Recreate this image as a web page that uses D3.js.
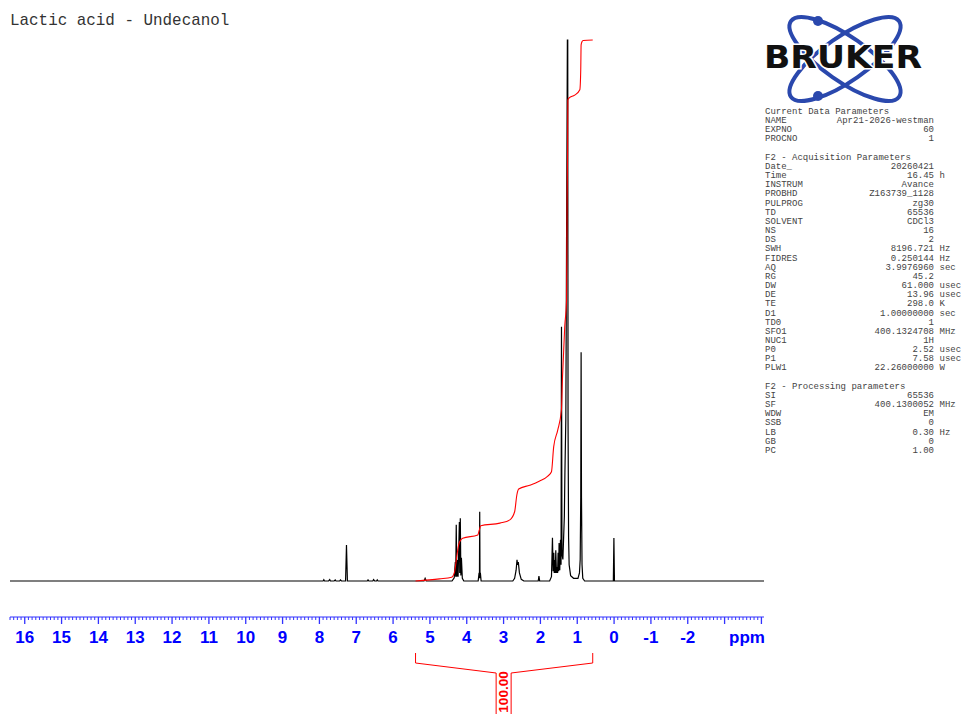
<!DOCTYPE html>
<html>
<head>
<meta charset="utf-8">
<script src="https://d3js.org/d3.v7.min.js"></script>
<style>
  html, body { margin: 0; padding: 0; background: #fff; }
  #chart { width: 961px; height: 714px; overflow: hidden; }
</style>
</head>
<body>
<div id="chart"></div>
<script>
"use strict";

// ---- data ----
const titleText = "Lactic acid - Undecanol";

const axisTicks = [16, 15, 14, 13, 12, 11, 10, 9, 8, 7, 6, 5, 4, 3, 2, 1, 0, -1, -2];
const axisUnit = "ppm";
const ppmExtent = [16.4, -4.07];

// 1H spectrum, relative intensity (100 = top of plot)
const spectrumPpm = [
  16.4, 7.9, 7.88, 7.86, 7.75, 7.72, 7.70, 7.60, 7.57, 7.55, 7.45, 7.43, 7.40,
  7.29, 7.265, 7.24, 6.70, 6.68, 6.66, 6.55, 6.53, 6.50, 6.45, 6.43, 6.41,
  5.16, 5.13, 5.10,
  4.40, 4.34, 4.31, 4.30, 4.285, 4.27, 4.25, 4.235, 4.20, 4.19, 4.175, 4.16, 4.145, 4.12, 4.08,
  3.69, 3.665, 3.655, 3.648, 3.64, 3.63, 3.61,
  2.75, 2.70, 2.66, 2.635, 2.62, 2.60, 2.57, 2.52, 2.45,
  2.06, 2.04, 2.02,
  1.75, 1.70, 1.673, 1.655, 1.637, 1.625, 1.61, 1.597, 1.583, 1.565, 1.548, 1.533,
  1.52, 1.505, 1.493, 1.475, 1.455, 1.44, 1.428, 1.415, 1.39, 1.35, 1.335, 1.31,
  1.268, 1.258, 1.25, 1.235, 1.22, 1.18, 1.10, 0.98, 0.94, 0.92, 0.905, 0.895, 0.885,
  0.87, 0.85, 0.80,
  0.02, 0.005, -0.01, -4.07
];
const spectrumIntensity = [
  0, 0, 0.25, 0, 0, 0.25, 0, 0, 0.2, 0, 0, 0.2, 0,
  0, 6.65, 0, 0, 0.2, 0, 0, 0.25, 0, 0, 0.2, 0,
  0, 0.5, 0,
  0, 0.6, 3.5, 0.8, 10.4, 0.8, 3.9, 0.8, 10.9, 1.5, 11.6, 1, 4.3, 0.5, 0,
  0, 1.5, 0.5, 12.8, 0.5, 1.5, 0,
  0, 0.5, 2.0, 3.9, 3.0, 3.5, 1.5, 0.3, 0,
  0, 0.9, 0,
  0, 0.8, 8.0, 1.8, 5.2, 1.5, 3.9, 1.5, 5.7, 1.5, 2.6, 1.5,
  5.2, 1.8, 7.0, 2, 7.6, 3, 47, 5, 4, 12, 20, 30,
  100, 100, 30, 8, 3, 1, 0.5, 0.5, 1.5, 4, 15.5, 42.3, 15.5,
  3, 0.5, 0,
  0, 7.95, 0, 0
];

// integral trace (0..100)
const integralPpm = [
  5.39, 4.74, 4.41, 4.33, 4.27, 4.22, 4.16, 4.11, 3.70, 3.66, 3.62, 3.10, 2.83,
  2.70, 2.64, 2.59, 2.29, 2.02, 1.80, 1.70, 1.64, 1.53, 1.43, 1.40, 1.34, 1.29,
  1.275, 1.262, 1.255, 1.22, 1.07, 0.93, 0.905, 0.895, 0.87, 0.84, 0.58
];
const integralValue = [
  0, 0.4, 0.7, 1.7, 4.6, 6.7, 7.6, 7.9, 8.5, 9.4, 10.2, 10.7, 11.3,
  12.8, 15.9, 17, 17.7, 18.5, 19.4, 20.2, 24.8, 27.9, 31.6, 37.7, 47, 51.9,
  70.4, 79.7, 88.9, 89.3, 89.8, 90.8, 94.5, 99.1, 99.7, 99.9, 100
];
const integralRange = [5.39, 0.58];
const integralLabel = "100.00";

const paramNames = [
  "Current Data Parameters", "NAME", "EXPNO", "PROCNO", "",
  "F2 - Acquisition Parameters", "Date_", "Time", "INSTRUM", "PROBHD", "PULPROG", "TD",
  "SOLVENT", "NS", "DS", "SWH", "FIDRES", "AQ", "RG", "DW", "DE", "TE", "D1", "TD0",
  "SFO1", "NUC1", "P0", "P1", "PLW1", "",
  "F2 - Processing parameters", "SI", "SF", "WDW", "SSB", "LB", "GB", "PC"
];
const paramValues = [
  "", "Apr21-2026-westman", "60", "1", "",
  "", "20260421", "16.45", "Avance", "Z163739_1128", "zg30", "65536",
  "CDCl3", "16", "2", "8196.721", "0.250144", "3.9976960", "45.2", "61.000", "13.96", "298.0", "1.00000000", "1",
  "400.1324708", "1H", "2.52", "7.58", "22.26000000", "",
  "", "65536", "400.1300052", "EM", "0", "0.30", "0", "1.00"
];
const paramUnits = [
  "", "", "", "", "",
  "", "", "h", "", "", "", "",
  "", "", "", "Hz", "Hz", "sec", "", "usec", "usec", "K", "sec", "",
  "MHz", "", "usec", "usec", "W", "",
  "", "", "MHz", "", "", "Hz", "", ""
];

// ---- drawing ----
let width = 961, height = 714;

let svg = d3.select("#chart").append("svg")
  .attr("width", width)
  .attr("height", height);

let x = d3.scaleLinear().domain(ppmExtent).range([10, 764]);
let y = d3.scaleLinear().domain([0, 100]).range([581, 40]);

drawTitle();
drawSpectrum();
drawIntegral();
drawAxis();
drawLogo();
drawParams();

function drawTitle() {
  svg.append("text")
    .attr("x", 10)
    .attr("y", 25)
    .style("font-family", "'Liberation Mono', 'DejaVu Sans Mono', monospace")
    .style("font-size", "15.9px")
    .style("fill", "#333")
    .text(titleText);
}

function drawSpectrum() {
  let pts = spectrumPpm.map((p, i) => [p, spectrumIntensity[i]]);
  let line = d3.line()
    .x(d => x(d[0]))
    .y(d => y(d[1]));

  svg.append("path")
    .attr("d", line(pts))
    .style("fill", "none")
    .style("stroke", "#000")
    .style("stroke-width", 1.2);
}

function drawIntegral() {
  let pts = integralPpm.map((p, i) => [p, integralValue[i]]);
  let line = d3.line()
    .curve(d3.curveMonotoneX)
    .x(d => x(d[0]))
    .y(d => y(d[1]));

  svg.append("path")
    .attr("d", line(pts.slice().reverse()))
    .style("fill", "none")
    .style("stroke", "#f00")
    .style("stroke-width", 1.1);

  // bracket under the axis
  let x0 = x(integralRange[0]), x1 = x(integralRange[1]);
  let cx = (x0 + x1) / 2;
  let bracket = d3.path();
  bracket.moveTo(x0, 653);
  bracket.lineTo(x0, 663);
  bracket.lineTo(cx - 8, 673);
  bracket.lineTo(cx - 8, height);
  bracket.moveTo(x1, 653);
  bracket.lineTo(x1, 663);
  bracket.lineTo(cx + 7, 673);
  bracket.lineTo(cx + 7, height);

  svg.append("path")
    .attr("d", bracket.toString())
    .style("fill", "none")
    .style("stroke", "#f00")
    .style("stroke-width", 1);

  svg.append("text")
    .attr("transform", "translate(" + (cx - 0.5) + ",692) rotate(-90)")
    .attr("text-anchor", "middle")
    .attr("dominant-baseline", "central")
    .style("font-family", "'Liberation Sans', Arial, sans-serif")
    .style("font-weight", "bold")
    .style("font-size", "13.5px")
    .style("fill", "#f00")
    .text(integralLabel);
}

function drawAxis() {
  let g = svg.append("g")
    .attr("transform", "translate(0,617)");

  g.append("line")
    .attr("x1", 10).attr("x2", 764)
    .attr("y1", 0).attr("y2", 0)
    .style("stroke", "#33f")
    .style("stroke-width", 1.2);

  // minor ticks every 0.1 ppm, major every 1 ppm
  let minor = d3.range(-40, 165).map(d => d / 10);
  g.selectAll(".minor")
    .data(minor.filter(d => Math.round(d * 10) % 10 !== 0))
    .enter().append("line")
    .attr("class", "minor")
    .attr("x1", d => x(d)).attr("x2", d => x(d))
    .attr("y1", 0).attr("y2", 3)
    .style("stroke", "#33f")
    .style("stroke-width", 1);

  g.selectAll(".major")
    .data(d3.range(-4, 17))
    .enter().append("line")
    .attr("class", "major")
    .attr("x1", d => x(d)).attr("x2", d => x(d))
    .attr("y1", 0).attr("y2", 7)
    .style("stroke", "#33f")
    .style("stroke-width", 1.3);

  g.selectAll(".tickLabel")
    .data(axisTicks)
    .enter().append("text")
    .attr("class", "tickLabel")
    .attr("x", d => x(d))
    .attr("y", 26)
    .attr("text-anchor", "middle")
    .style("font-family", "'Liberation Sans', Arial, sans-serif")
    .style("font-weight", "bold")
    .style("font-size", "17px")
    .style("fill", "#00f")
    .text(d => d);

  g.append("text")
    .attr("x", 747)
    .attr("y", 26)
    .attr("text-anchor", "middle")
    .style("font-family", "'Liberation Sans', Arial, sans-serif")
    .style("font-weight", "bold")
    .style("font-size", "17px")
    .style("fill", "#00f")
    .text(axisUnit);
}

function drawLogo() {
  let blue = "#2a48ad";
  let g = svg.append("g").attr("transform", "translate(845,59)");

  [35, -35].forEach(a => {
    g.append("ellipse")
      .attr("rx", 66).attr("ry", 22)
      .attr("transform", "rotate(" + a + ")")
      .style("fill", "none")
      .style("stroke", blue)
      .style("stroke-width", 4);
  });

  g.append("circle").attr("cx", -27).attr("cy", -38).attr("r", 5).style("fill", blue);
  g.append("circle").attr("cx", -27).attr("cy", 37).attr("r", 5).style("fill", blue);

  svg.append("text")
    .attr("x", 764)
    .attr("y", 68)
    .attr("textLength", 158)
    .attr("lengthAdjust", "spacingAndGlyphs")
    .style("font-family", "'DejaVu Sans', 'Liberation Sans', sans-serif")
    .style("font-weight", "bold")
    .style("font-size", "31.5px")
    .style("fill", "#111")
    .style("stroke", "#fff")
    .style("stroke-width", 3)
    .style("paint-order", "stroke")
    .text("BRUKER");
}

function drawParams() {
  let g = svg.append("g")
    .style("font-family", "'Liberation Mono', 'DejaVu Sans Mono', monospace")
    .style("font-size", "9px")
    .style("fill", "#444");

  paramNames.forEach((name, i) => {
    let yy = 114 + i * 9.16;
    g.append("text").attr("x", 765).attr("y", yy).text(name);
    if (paramValues[i]) {
      g.append("text").attr("x", 934).attr("y", yy)
        .attr("text-anchor", "end").text(paramValues[i]);
    }
    if (paramUnits[i]) {
      g.append("text").attr("x", 939.5).attr("y", yy).text(paramUnits[i]);
    }
  });
}
</script>
</body>
</html>
